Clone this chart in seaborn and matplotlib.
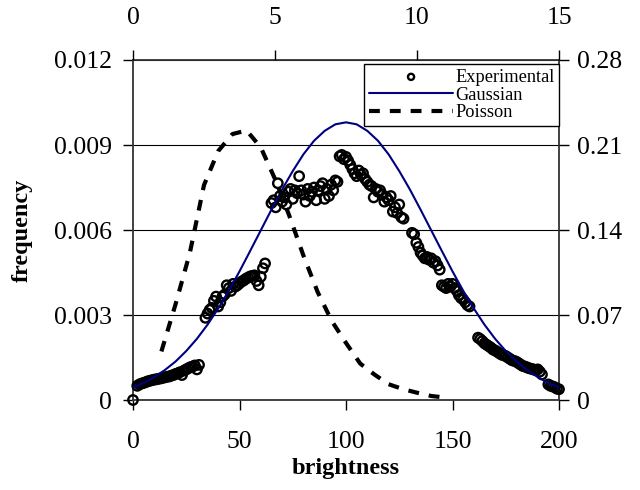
import matplotlib
matplotlib.use("Agg")
import matplotlib.pyplot as plt
import seaborn as sns
import pandas as pd

# ---------------- data ----------------
# Experimental histogram (brightness vs frequency)
seg0_x = [0]
seg0_y = [0.0]
segA_x = list(range(2, 32))
segA_y = [0.00050, 0.00055, 0.00058, 0.00060, 0.00063, 0.00066, 0.00068, 0.00070,
          0.00072, 0.00073, 0.00075, 0.00076, 0.00078, 0.00080, 0.00082, 0.00083,
          0.00086, 0.00088, 0.00092, 0.00094, 0.00098, 0.00088, 0.00104, 0.00108,
          0.00112, 0.00116, 0.00118, 0.00122, 0.00108, 0.00124]
segB_x = list(range(34, 63))
segB_y = [0.00290, 0.00305, 0.00318, 0.00325, 0.00350, 0.00365, 0.00330, 0.00345,
          0.00365, 0.00372, 0.00405, 0.00395, 0.00385, 0.00410, 0.00400, 0.00405,
          0.00412, 0.00418, 0.00422, 0.00428, 0.00432, 0.00436, 0.00438, 0.00440,
          0.00420, 0.00405, 0.00435, 0.00465, 0.00482]
segC_x = list(range(65, 97))
segC_y = [0.00695, 0.00705, 0.00680, 0.00765, 0.00720, 0.00700, 0.00715, 0.00690,
          0.00735, 0.00745, 0.00710, 0.00740, 0.00730, 0.00790, 0.00740, 0.00725,
          0.00700, 0.00745, 0.00720, 0.00735, 0.00750, 0.00705, 0.00740, 0.00755,
          0.00765, 0.00710, 0.00745, 0.00720, 0.00760, 0.00740, 0.00775, 0.00770]
segD_x = list(range(97, 128)) + list(range(131, 159))
segD_y = [0.00860, 0.00865, 0.00850, 0.00858, 0.00845, 0.00830, 0.00815, 0.00800,
          0.00790, 0.00810, 0.00795, 0.00800, 0.00780, 0.00770, 0.00760, 0.00755,
          0.00715, 0.00745, 0.00735, 0.00740, 0.00725, 0.00700, 0.00715, 0.00705,
          0.00720, 0.00665, 0.00680, 0.00660, 0.00690, 0.00645, 0.00640,
          0.00590, 0.00585, 0.00555, 0.00540, 0.00520, 0.00510, 0.00500, 0.00505,
          0.00495, 0.00500, 0.00485, 0.00490, 0.00475, 0.00460, 0.00405, 0.00400,
          0.00395, 0.00410, 0.00400, 0.00410, 0.00395, 0.00385, 0.00370, 0.00360,
          0.00355, 0.00345, 0.00335, 0.00330]
segF_x = list(range(162, 193)) + list(range(195, 201))
segF_y = [0.00220, 0.00215, 0.00208, 0.00200, 0.00195, 0.00190, 0.00185, 0.00178,
          0.00175, 0.00170, 0.00165, 0.00160, 0.00158, 0.00155, 0.00150, 0.00145,
          0.00140, 0.00138, 0.00135, 0.00130, 0.00125, 0.00120, 0.00118, 0.00115,
          0.00112, 0.00110, 0.00108, 0.00105, 0.00108, 0.00100, 0.00090,
          0.00055, 0.00050, 0.00048, 0.00045, 0.00040, 0.00038]

exp_x = seg0_x + segA_x + segB_x + segC_x + segD_x + segF_x
exp_y = seg0_y + segA_y + segB_y + segC_y + segD_y + segF_y

# Gaussian fit (bottom / left axes)
gauss_x = [0, 5, 10, 15, 20, 25, 30, 35, 40, 45, 50, 55, 60, 65, 70, 75, 80, 85, 90, 95, 100,
           105, 110, 115, 120, 125, 130, 135, 140, 145, 150, 155, 160, 165, 170, 175, 180,
           185, 190, 195, 200]
gauss_y = [0.00045, 0.00060, 0.00081, 0.00106, 0.00136, 0.00173, 0.00216, 0.00266,
           0.00323, 0.00386, 0.00454, 0.00526, 0.00599, 0.00672, 0.00743, 0.00808,
           0.00867, 0.00915, 0.00950, 0.00973, 0.00980, 0.00973, 0.00950, 0.00915,
           0.00867, 0.00808, 0.00743, 0.00672, 0.00599, 0.00526, 0.00454, 0.00386,
           0.00323, 0.00266, 0.00216, 0.00173, 0.00136, 0.00106, 0.00081, 0.00060,
           0.00045]

# Poisson (top / right axes)
pois_x = [1.0, 1.5, 2.0, 2.5, 3.0, 3.5, 4.0, 4.5, 5.0, 5.5, 6.0, 6.5, 7.0, 7.5, 8.0,
          8.5, 9.0, 9.5, 10.0, 10.5, 11.0]
pois_y = [0.040, 0.079, 0.121, 0.177, 0.205, 0.219, 0.222, 0.208, 0.182, 0.152, 0.119,
          0.089, 0.065, 0.047, 0.030, 0.021, 0.013, 0.009, 0.006, 0.0033, 0.002]

left_ticks = [0, 0.003, 0.006, 0.009, 0.012]
left_labels = ["0", "0.003", "0.006", "0.009", "0.012"]
bottom_ticks = [0, 50, 100, 150, 200]
right_ticks = [0, 0.07, 0.14, 0.21, 0.28]
right_labels = ["0", "0.07", "0.14", "0.21", "0.28"]
top_ticks = [0, 5, 10, 15]

# ---------------- style ----------------
sns.set_style("white")
plt.rcParams["font.family"] = ["Liberation Serif", "DejaVu Serif"]
plt.rcParams["text.color"] = "black"
plt.rcParams["axes.labelcolor"] = "black"
FS = 18.5

fig = plt.figure(figsize=(6.4, 4.9), dpi=100)
rect = [133 / 640, 1 - 400 / 490, (559 - 133) / 640, 340 / 490]
ax = fig.add_axes(rect)

exp_df = pd.DataFrame({"brightness": exp_x, "frequency": exp_y})
sns.scatterplot(data=exp_df, x="brightness", y="frequency", ax=ax, marker="o",
                s=46, linewidth=1.7, edgecolor="black", facecolor="none",
                label="Experimental", clip_on=False, zorder=3)
coll = ax.collections[-1]
coll.set_facecolor("none")
coll.set_edgecolor("black")

gauss_df = pd.DataFrame({"x": gauss_x, "y": gauss_y})
sns.lineplot(data=gauss_df, x="x", y="y", ax=ax, color="#000080", lw=1.5,
             label="Gaussian", zorder=4)

ax.set_xlim(0, 200)
ax.set_ylim(0, 0.012)
ax.set_xticks(bottom_ticks)
ax.set_xticklabels([str(t) for t in bottom_ticks])
ax.set_yticks(left_ticks)
ax.set_yticklabels(left_labels)
ax.yaxis.grid(True, color="black", lw=0.8)
ax.xaxis.grid(False)
ax.set_axisbelow(True)
ax.tick_params(axis="both", direction="out", length=7, width=1, labelsize=FS,
               colors="black", top=False, right=False, left=True, bottom=True)
ax.tick_params(axis="x", pad=15)
ax.tick_params(axis="y", pad=8)
ax.set_xlabel("brightness", fontsize=FS - 1, fontweight="bold", labelpad=4)
ax.set_ylabel("frequency", fontsize=FS - 1, fontweight="bold", labelpad=15)
for sp in ax.spines.values():
    sp.set_color("#333333")
    sp.set_linewidth(1.3)

ax2 = fig.add_axes(rect, frameon=False)
ax2.patch.set_visible(False)
pois_df = pd.DataFrame({"x": pois_x, "y": pois_y})
sns.lineplot(data=pois_df, x="x", y="y", ax=ax2, color="black", lw=3,
             linestyle=(0, (2.6, 2.4)), label="Poisson")
ax2.set_xlim(0, 15)
ax2.set_ylim(0, 0.28)
ax2.xaxis.set_ticks_position("top")
ax2.xaxis.set_label_position("top")
ax2.yaxis.set_ticks_position("right")
ax2.yaxis.set_label_position("right")
ax2.set_xticks(top_ticks)
ax2.set_xticklabels([str(t) for t in top_ticks])
ax2.set_yticks(right_ticks)
ax2.set_yticklabels(right_labels)
ax2.set_xlabel("")
ax2.set_ylabel("")
ax2.grid(False)
ax2.tick_params(axis="both", direction="out", length=7, width=1, labelsize=FS,
                colors="black", bottom=False, left=False, top=True, right=True,
                labelbottom=False, labelleft=False, labeltop=True, labelright=True)
ax2.tick_params(axis="x", pad=15)
ax2.tick_params(axis="y", pad=6)

for a in (ax, ax2):
    lg = a.get_legend()
    if lg is not None:
        lg.remove()

h1, l1 = ax.get_legend_handles_labels()
h2, l2 = ax2.get_legend_handles_labels()
leg = ax2.legend(h1 + h2, l1 + l2, loc="upper right", bbox_to_anchor=(1.0, 0.988),
                 borderaxespad=0, frameon=True, fancybox=False, framealpha=1,
                 edgecolor="black", prop={"family": "Liberation Serif", "size": 13.2},
                 handlelength=4.6, handletextpad=0.1, labelspacing=0.05,
                 borderpad=0.25, markerscale=0.65)
leg.get_frame().set_linewidth(1.0)

fig.savefig("out.png", dpi=100)
